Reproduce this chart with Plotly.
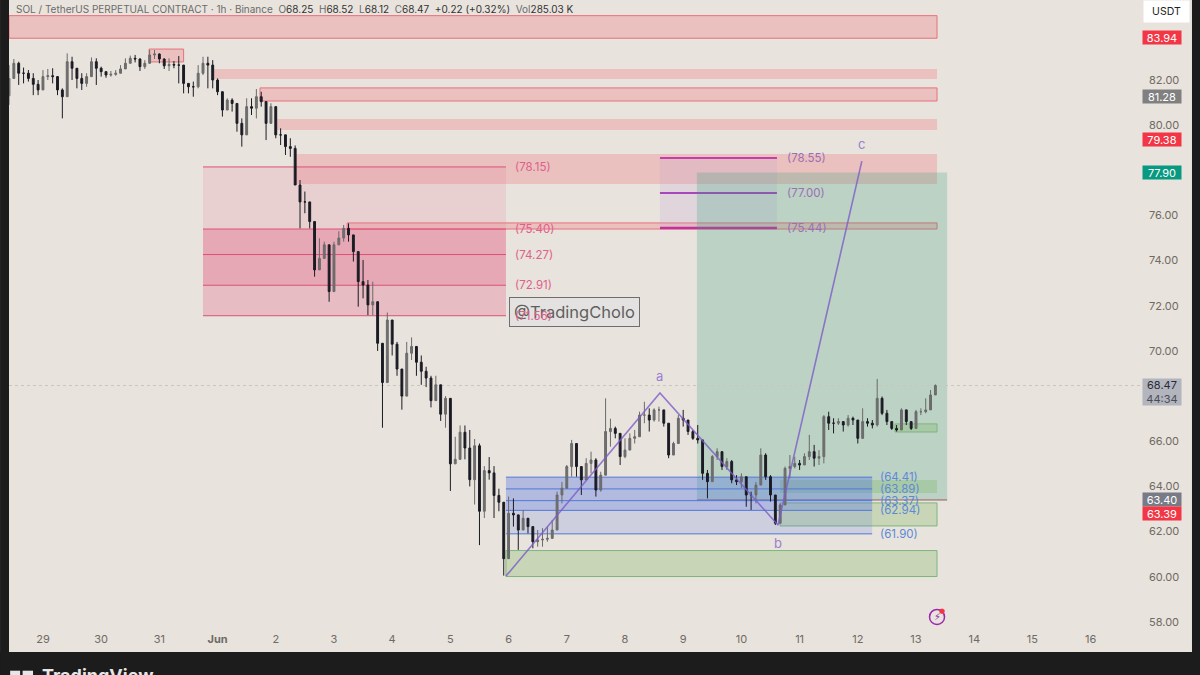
import pandas as pd
import plotly.graph_objects as go

# 2h candles, from May 28 10:00
closes = [
    82.07, 82.74, 82.3, 82.3, 82.07, 81.81, 81.56, 82.15, 82.19, 82.15, 81.56, 81.26,
    82.81, 82.52, 82.07, 81.85, 82.15, 82.81, 82.52, 82.37, 82.22, 82.25, 82.3, 82.49,
    82.74, 82.96, 82.93, 82.59, 82.74, 83.11, 83.15, 82.93, 82.63, 82.69, 82.66, 82.66,
    81.85, 81.7, 81.7, 82.3, 82.74, 82.66, 82.0, 81.48, 80.67, 81.11, 80.96, 80.08,
    79.57, 80.82, 80.75, 81.26, 81.04, 80.08, 80.82, 79.57, 79.57, 79.05, 78.97, 77.35,
    76.6, 76.6, 75.73, 73.59, 74.1, 74.7, 72.63, 74.7, 75.0, 75.43, 75.14, 74.4,
    73.07, 72.92, 72.04, 72.18, 70.34, 68.6, 71.37, 70.3, 69.2, 68.0, 69.9, 70.2,
    69.5, 69.1, 68.8, 67.8, 68.5, 67.2, 67.9, 65.0, 65.2, 66.4, 65.7, 64.3,
    65.8, 62.9, 64.7, 64.6, 63.6, 63.3, 60.8, 62.81, 62.74, 62.07, 62.59, 62.22,
    61.55, 61.63, 61.66, 61.7, 62.07, 63.62, 63.92, 64.88, 65.9, 64.88, 64.29, 65.02,
    65.17, 63.84, 64.5, 66.43, 66.57, 66.35, 65.32, 65.61, 66.13, 66.2, 67.16, 67.16,
    66.94, 67.39, 67.39, 66.8, 65.39, 65.9, 67.02, 66.94, 66.43, 66.13, 66.06, 64.58,
    64.21, 65.32, 65.54, 64.88, 65.1, 64.29, 64.21, 64.43, 63.62, 63.62, 64.06, 65.39,
    64.43, 63.62, 62.37, 63.18, 64.8, 64.88, 65.02, 64.95, 65.32, 65.54, 65.25, 65.32,
    67.09, 66.8, 66.8, 66.87, 66.72, 67.02, 66.94, 66.13, 66.87, 66.8, 66.72, 67.9,
    67.24, 66.87, 66.57, 66.5, 67.39, 66.87, 66.57, 67.31, 67.31, 67.39, 68.05, 68.47,
]
highs = [
    82.66, 82.93, 82.81, 82.55, 82.44, 82.3, 82.0, 82.44, 82.49, 82.52, 82.0, 81.63,
    83.18, 83.03, 82.37, 82.3, 82.3, 83.0, 82.96, 82.59, 82.37, 82.4, 82.44, 82.66,
    82.96, 83.08, 83.11, 82.96, 82.88, 83.33, 83.33, 83.18, 82.96, 82.96, 82.84, 83.06,
    82.3, 81.85, 81.93, 82.66, 83.03, 83.03, 82.88, 82.07, 81.33, 81.19, 81.19, 80.96,
    80.3, 81.19, 81.19, 81.6, 81.48, 80.97, 80.97, 80.3, 79.86, 79.57, 79.42, 79.1,
    77.57, 77.06, 76.17, 75.58, 74.99, 74.84, 74.7, 74.84, 75.3, 75.58, 75.65, 75.14,
    74.4, 74.03, 73.14, 73.07, 71.6, 70.0, 71.7, 71.2, 70.4, 68.9, 70.4, 70.6,
    70.0, 69.8, 69.3, 68.9, 68.9, 68.5, 68.0, 66.4, 66.2, 66.7, 66.7, 66.5,
    66.1, 65.9, 64.9, 65.3, 64.9, 63.9, 63.0, 63.55, 63.47, 62.66, 62.96, 62.44,
    62.07, 62.07, 62.15, 62.22, 62.51, 63.77, 64.2, 64.95, 66.06, 65.0, 64.88, 65.25,
    65.54, 65.25, 64.65, 67.9, 67.0, 66.65, 66.28, 66.13, 66.35, 66.5, 67.31, 67.75,
    67.46, 67.46, 67.53, 67.39, 66.8, 65.98, 67.16, 67.39, 66.87, 66.5, 66.72, 66.06,
    64.73, 65.39, 65.69, 65.39, 65.25, 65.17, 64.5, 64.58, 64.43, 63.77, 64.2, 65.69,
    65.47, 64.5, 63.33, 63.25, 64.88, 65.39, 65.32, 65.17, 65.47, 66.28, 65.84, 65.61,
    67.16, 67.31, 67.02, 67.02, 66.87, 67.16, 67.09, 66.94, 67.46, 67.02, 66.94, 68.76,
    67.98, 67.39, 66.87, 66.72, 67.46, 67.39, 66.87, 67.39, 67.46, 67.9, 68.27, 68.52,
]
lows = [
    80.9, 82.07, 81.78, 81.85, 81.93, 81.33, 81.33, 81.93, 82.0, 81.85, 81.33, 80.3,
    81.78, 82.0, 81.63, 81.56, 81.7, 82.15, 81.78, 82.15, 82.1, 82.15, 82.19, 82.3,
    82.52, 82.74, 82.78, 82.4, 82.49, 82.81, 82.93, 82.74, 82.49, 82.4, 82.52, 81.85,
    81.41, 81.41, 81.26, 81.63, 82.22, 81.63, 81.63, 81.33, 80.38, 80.67, 80.6, 79.71,
    79.05, 80.3, 80.45, 80.3, 80.82, 79.34, 80.3, 79.42, 79.12, 78.68, 78.6, 77.35,
    75.43, 76.1, 75.43, 73.29, 73.59, 74.1, 72.18, 73.96, 74.7, 74.84, 74.84, 73.96,
    71.96, 72.33, 71.59, 71.59, 70.0, 66.6, 69.8, 69.8, 68.9, 67.4, 68.2, 69.6,
    68.9, 68.5, 68.4, 67.5, 68.0, 66.9, 66.6, 63.8, 65.0, 65.9, 65.2, 64.0,
    63.2, 61.4, 62.6, 64.3, 62.6, 62.9, 60.05, 61.78, 62.22, 61.19, 62.07, 61.92,
    61.26, 61.33, 61.33, 61.55, 61.92, 62.22, 63.25, 64.14, 64.43, 64.43, 63.62, 64.29,
    64.58, 63.55, 63.77, 64.58, 65.76, 66.13, 64.95, 65.25, 65.61, 65.9, 66.43, 66.8,
    66.43, 66.87, 66.87, 66.65, 65.25, 65.39, 65.9, 66.65, 66.28, 66.06, 65.9, 64.29,
    63.47, 64.21, 65.17, 64.73, 64.73, 64.14, 64.06, 63.92, 63.1, 62.96, 63.25, 64.06,
    64.29, 63.33, 62.29, 62.37, 63.18, 64.36, 64.8, 64.73, 64.95, 65.17, 64.88, 64.95,
    65.02, 66.5, 66.35, 66.72, 66.43, 66.65, 66.72, 65.9, 66.2, 66.65, 66.57, 66.65,
    67.16, 66.72, 66.5, 66.43, 66.57, 66.72, 66.5, 66.57, 67.16, 67.24, 67.83, 68.12,
]
opens = [81.3] + closes[:-1]
times = pd.date_range("2026-05-28 10:00", periods=len(closes), freq="2h")

day_ticks = pd.date_range("2026-05-29", periods=19, freq="D")
day_labels = ["29", "30", "31", "<b>Jun</b>", "2", "3", "4", "5", "6", "7", "8", "9",
              "10", "11", "12", "13", "14", "15", "16"]
price_ticks = [82, 80, 76, 74, 72, 70, 66, 64, 62, 60, 58]
x_start = "2026-05-28 10:00"
x_end = "2026-06-16 21:36"
zone_end = "2026-06-13 08:40"

# start, end, low, high, border
red_zones = [
    (x_start, zone_end, 83.85, 84.85, True),
    ("2026-05-30 19:45", "2026-05-31 10:00", 82.80, 83.37, True),
    ("2026-05-31 22:30", zone_end, 82.04, 82.49, False),
    ("2026-06-01 17:30", zone_end, 81.07, 81.65, True),
    ("2026-06-01 23:40", zone_end, 79.79, 80.27, False),
    ("2026-06-02 08:20", zone_end, 77.39, 78.72, False),
    ("2026-06-03 05:25", zone_end, 75.40, 75.67, True),
]
green_zones = [
    ("2026-06-05 22:55", zone_end, 60.01, 61.16, True),
    ("2026-06-10 15:55", zone_end, 62.25, 63.27, True),
    ("2026-06-10 15:55", zone_end, 63.71, 64.28, False),
    ("2026-06-12 15:20", zone_end, 66.41, 66.77, True),
]

pink_levels = [78.15, 75.40, 74.27, 72.91, 71.56]
pink_start, pink_end = "2026-05-31 18:00", "2026-06-05 22:55"
violet_levels = [78.55, 77.00, 75.44]
violet_start, violet_end = "2026-06-08 14:25", "2026-06-10 14:40"
blue_levels = [64.41, 63.89, 63.37, 62.94, 61.90]
blue_start, blue_end = "2026-06-05 22:55", "2026-06-12 05:55"

abc_times = ["2026-06-05 22:55", "2026-06-08 14:25", "2026-06-10 15:05", "2026-06-12 01:40"]
abc_prices = [60.03, 68.14, 62.29, 78.41]
abc_labels = ["", "a", "b", "c"]

# price scale tags: value, background, text color
tags = [
    ("83.94", 83.90, "#F23645", "#ffffff"),
    ("81.28", 81.28, "#808080", "#ffffff"),
    ("79.38", 79.38, "#F23645", "#ffffff"),
    ("77.90", 77.90, "#089981", "#ffffff"),
    ("63.40", 63.40, "#787B86", "#ffffff"),
    ("63.39", 62.82, "#F23645", "#ffffff"),
]

FONT = "Inter"
BG = "#E8E3DC"
DARK = "#1C1C1C"

fig = go.Figure()

fig.add_trace(go.Candlestick(
    x=times, open=opens, high=highs, low=lows, close=closes,
    increasing=dict(line=dict(color="#6A6A6A", width=1), fillcolor="#707070"),
    decreasing=dict(line=dict(color="#1B1B24", width=1), fillcolor="#1B1B24"),
    whiskerwidth=0,
    hoverinfo="skip",
))

# a-b-c sketch
fig.add_trace(go.Scatter(
    x=abc_times, y=abc_prices, mode="lines",
    line=dict(color="rgba(124,92,200,0.8)", width=1.6),
    hoverinfo="skip",
))
fig.add_trace(go.Scatter(
    x=["2026-06-13 08:40"], y=[58.22], mode="markers",
    marker=dict(size=15, color="rgba(0,0,0,0)", line=dict(color="#9C27B0", width=1.5)),
    hoverinfo="skip",
))


def rect(x0, x1, lo, hi, fill, line=None):
    fig.add_shape(type="rect", x0=x0, x1=x1, y0=lo, y1=hi, fillcolor=fill, layer="below",
                  line=dict(color=line, width=1) if line else dict(width=0))


def hline(x0, x1, y, color, width=1, dash="solid", layer="below"):
    fig.add_shape(type="line", x0=x0, x1=x1, y0=y, y1=y, layer=layer,
                  line=dict(color=color, width=width, dash=dash))


def level_label(x, y, text, color):
    fig.add_annotation(x=x, y=y, text=text, showarrow=False, xanchor="left",
                       font=dict(family=FONT, size=11.5, color=color))


for x0, x1, lo, hi, border in red_zones:
    rect(x0, x1, lo, hi, "rgba(240,90,105,0.25)", "#E8707C" if border else None)

# watermark sits under the fib labels
fig.add_annotation(x="2026-06-07 03:00", y=71.73, text="@TradingCholo", showarrow=False,
                   width=127, height=26, bgcolor="rgba(226,226,226,0.72)",
                   bordercolor="#6E6E6E", borderwidth=1,
                   font=dict(family=FONT, size=16.5, color="#5F5F5F"))

# pink fib block
rect(pink_start, pink_end, pink_levels[4], pink_levels[0], "rgba(230,120,150,0.18)")
rect(pink_start, pink_end, pink_levels[4], pink_levels[1], "rgba(230,90,130,0.17)")
rect(pink_start, pink_end, pink_levels[3], pink_levels[1], "rgba(230,70,120,0.17)")
for lvl in pink_levels:
    hline(pink_start, pink_end, lvl, "#DE4F78")
    level_label("2026-06-06 02:00", lvl, f"({lvl:.2f})", "#E0608A")

# violet fib block
rect(violet_start, violet_end, violet_levels[2], violet_levels[0], "rgba(190,160,210,0.2)")
hline(violet_start, violet_end, violet_levels[0], "#C43FA8", 2)
hline(violet_start, violet_end, violet_levels[1], "#A945BE", 2)
hline(violet_start, violet_end, violet_levels[2], "#C4309E", 2.5)
for lvl in violet_levels:
    level_label("2026-06-10 17:50", lvl, f"({lvl:.2f})", "#9C6FB4")

# long position box
rect("2026-06-09 05:40", "2026-06-13 12:50", 63.40, 77.90, "rgba(50,160,120,0.24)")
hline("2026-06-09 05:40", "2026-06-13 12:50", 63.40, "#9C5A62")

for x0, x1, lo, hi, border in green_zones:
    rect(x0, x1, lo, hi, "rgba(120,180,90,0.28)", "#7DB57E" if border else None)

# blue fib block
rect(blue_start, blue_end, blue_levels[4], blue_levels[0], "rgba(100,130,230,0.2)")
rect(blue_start, blue_end, blue_levels[3], blue_levels[0], "rgba(70,110,230,0.2)")
for lvl in blue_levels:
    hline(blue_start, blue_end, lvl, "#5078D8")
    level_label("2026-06-12 08:20", lvl, f"({lvl:.2f})", "#5D88D6")

hline(x_start, x_end, 68.47, "#C9C5BF", 1, "dot")

for t, p, lab in zip(abc_times, abc_prices, abc_labels):
    if lab:
        fig.add_annotation(x=t, y=p, text=lab, showarrow=False,
                           yshift=-18 if lab == "b" else 17,
                           font=dict(family=FONT, size=13, color="#9A7FD0"))

# lightning badge
fig.add_annotation(x="2026-06-13 08:40", y=58.22, text="⚡", showarrow=False,
                   font=dict(family="DejaVu Sans", size=10, color="#9C27B0"))
fig.add_annotation(x="2026-06-13 10:40", y=58.5, text="●", showarrow=False,
                   font=dict(family="DejaVu Sans", size=7, color="#F23645"))

# price scale tags
for text, y, bg, fg in tags:
    fig.add_annotation(xref="paper", x=1, xanchor="left", xshift=-1, y=y, text=text,
                       showarrow=False, width=38, height=13, bgcolor=bg, borderpad=0,
                       font=dict(family=FONT, size=11, color=fg))
fig.add_annotation(xref="paper", x=1, xanchor="left", xshift=-1, y=68.2,
                   text="<span style='color:#2a2a33'>68.47</span><br>44:34",
                   showarrow=False, width=38, height=26, bgcolor="#B2B5BE", borderpad=0,
                   font=dict(family=FONT, size=11, color="#4a4c55"))
fig.add_annotation(xref="paper", x=1, xanchor="left", xshift=0, yref="paper", y=1, yanchor="top",
                   text="USDT", showarrow=False, width=43, height=19, bgcolor="#FFFFFF",
                   font=dict(family=FONT, size=10.5, color="#222222"))

# top legend
fig.add_annotation(
    xref="paper", yref="paper", x=0.004, y=0.9857, xanchor="left", yanchor="middle",
    showarrow=False, font=dict(family=FONT, size=10, color="#6B6B6B"),
    text="SOL / TetherUS PERPETUAL CONTRACT · 1h · Binance&nbsp;&nbsp;"
         "O<span style='color:#333'>68.25</span>&nbsp;&nbsp;H<span style='color:#333'>68.52</span>&nbsp;&nbsp;"
         "L<span style='color:#333'>68.12</span>&nbsp;&nbsp;C<span style='color:#333'>68.47</span>&nbsp;&nbsp;"
         "<span style='color:#333'>+0.22 (+0.32%)</span>&nbsp;&nbsp;Vol<span style='color:#333'>285.03 K</span>",
)

# dark window edges and cut off logo
for x0, x1, y0, y1 in [(-0.0079, 0, -0.0748, 1), (1.0432, 1.0503, -0.0748, 1),
                       (-0.0079, 1.0503, -0.0748, -0.0382)]:
    fig.add_shape(type="rect", xref="paper", yref="paper", x0=x0, x1=x1, y0=y0, y1=y1,
                  fillcolor=DARK, line=dict(width=0), layer="above")
fig.add_shape(type="rect", xref="paper", yref="paper", x0=0.001, x1=0.0098, y0=-0.0748, y1=-0.068,
              fillcolor="#E6E6E6", line=dict(width=0), layer="above")
fig.add_shape(type="rect", xref="paper", yref="paper", x0=0.012, x1=0.0212, y0=-0.0748, y1=-0.068,
              fillcolor="#E6E6E6", line=dict(width=0), layer="above")
fig.add_annotation(xref="paper", yref="paper", x=0.027, y=-0.0557, xanchor="left", yanchor="top",
                   text="<b>TradingView</b>", showarrow=False,
                   font=dict(family=FONT, size=18, color="#E6E6E6"))

fig.update_layout(
    width=1200, height=675,
    margin=dict(l=9, r=57, t=0, b=47),
    paper_bgcolor=BG, plot_bgcolor=BG,
    showlegend=False,
    boxgap=0.45,
    xaxis=dict(
        range=[x_start, x_end], rangeslider=dict(visible=False), showgrid=False, zeroline=False,
        tickvals=day_ticks, ticktext=day_labels, ticks="", ticklabelstandoff=3,
        tickfont=dict(family=FONT, size=11, color="#6F6A64"),
    ),
    yaxis=dict(
        range=[57.73, 85.543], side="right", showgrid=False, zeroline=False,
        tickvals=price_ticks, ticktext=[f"{v:.2f}" for v in price_ticks], ticks="",
        ticklabelstandoff=5,
        tickfont=dict(family=FONT, size=11, color="#6F6A64"),
    ),
)

# the page's default body margin would push the chart off by 8px
fig.write_html("out.html", config={"displayModeBar": False},
               post_script="document.body.style.margin='0';")
